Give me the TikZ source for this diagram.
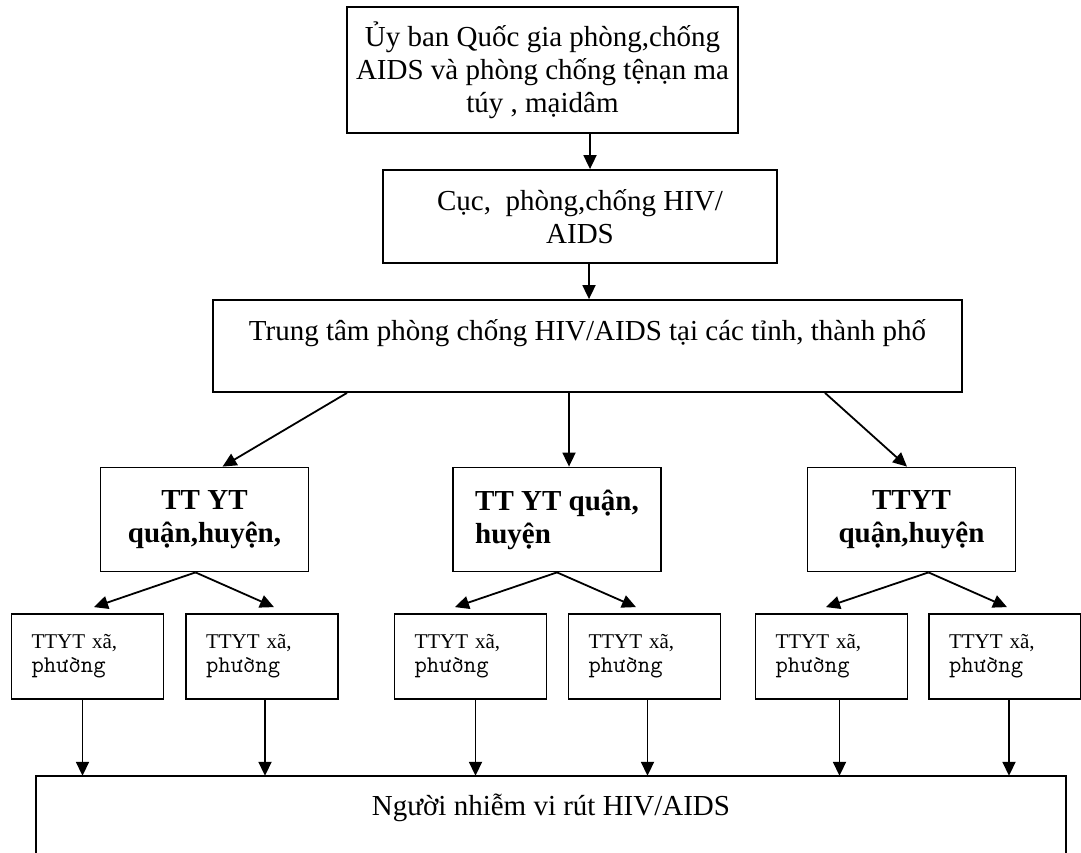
\documentclass[tikz,border=0pt]{standalone}
\usepackage{fontspec}
\setmainfont{Liberation Serif}
\usetikzlibrary{arrows.meta}

\newcommand{\phuong}{\texttt{\fontsize{24}{24}\selectfont phường}}

\begin{document}
\begin{tikzpicture}[x=1pt, y=-1pt,
	hop/.style={draw, line width=1.8pt, align=center, inner sep=0pt, font=\fontsize{29}{33}\selectfont},
	hopvua/.style={hop, minimum width=208pt, minimum height=104pt, font=\fontsize{29}{33}\selectfont\bfseries},
	hopnho/.style={draw, line width=1.8pt, align=left, inner xsep=20pt, inner ysep=0pt, text width=112pt, minimum height=85pt, font=\fontsize{21}{24}\selectfont},
	muiten/.style={line width=1.8pt, -{Triangle[length=14pt,width=13pt]}}]
	\useasboundingbox (0,0) rectangle (1081,852);
	% cap trung uong
	\node[hop, minimum width=391pt, minimum height=126pt] (uyban) at (542.5,70) {Ủy ban Quốc gia phòng,chống\\AIDS và phòng chống tệnạn ma\\túy , mạidâm};
	\node[hop, minimum width=394pt, minimum height=93pt] (cuc) at (580,216.5) {Cục,~ phòng,chống HIV/\\AIDS};
	\node[hop, minimum width=749pt, minimum height=92pt] (trungtam) at (587.5,346) {Trung tâm phòng chống HIV/AIDS tại các tỉnh, thành phố\\\mbox{}};
	% cap quan huyen
	\node[hopvua] (m1) at (204.5,519.5) {TT YT\\quận,huyện,};
	\node[hopvua, align=left] (m2) at (557,519.5) {TT YT quận,\\huyện};
	\node[hopvua] (m3) at (911.5,519.5) {TTYT\\quận,huyện};
	% cap xa phuong
	\node[hopnho] (s1) at (87.5,656.5) {TTYT xã,\\\phuong};
	\node[hopnho] (s2) at (262,656.5) {TTYT xã,\\\phuong};
	\node[hopnho] (s3) at (470.5,656.5) {TTYT xã,\\\phuong};
	\node[hopnho] (s4) at (644.5,656.5) {TTYT xã,\\\phuong};
	\node[hopnho] (s5) at (831.5,656.5) {TTYT xã,\\\phuong};
	\node[hopnho] (s6) at (1005,656.5) {TTYT xã,\\\phuong};
	% nguoi nhiem
	\node[font=\fontsize{29}{33}\selectfont, inner sep=0pt, minimum width=1030pt, minimum height=64pt] (nguoi) at (551,808) {Người nhiễm vi rút HIV/AIDS};
	\draw[line width=1.8pt] ([yshift=-30pt]nguoi.south west) |- (nguoi.north east) -- ([yshift=-30pt]nguoi.south east);
	
	\draw[muiten] ([xshift=10pt]cuc.north |- uyban.south) -- ([xshift=10pt]cuc.north);
	\draw[muiten] ([xshift=9pt]cuc.south) -- ([xshift=9pt]cuc.south |- trungtam.north);
	\draw[muiten] ([xshift=-240.5pt]trungtam.south) -- ([xshift=18pt]m1.north);
	\draw[muiten] ([xshift=-18.5pt]trungtam.south) -- ([xshift=12pt]m2.north);
	\draw[muiten] ([xshift=237.5pt]trungtam.south) -- ([xshift=-4.5pt]m3.north);
	\draw[muiten] ([xshift=-9pt]m1.south) -- ([xshift=6.5pt,yshift=6pt]s1.north);
	\draw[muiten] ([xshift=-9pt]m1.south) -- ([xshift=12pt,yshift=6pt]s2.north);
	\draw[muiten] (m2.south) -- ([xshift=-15.5pt,yshift=6pt]s3.north);
	\draw[muiten] (m2.south) -- ([xshift=-8.5pt,yshift=6pt]s4.north);
	\draw[muiten] ([xshift=17pt]m3.south) -- ([xshift=-5.5pt,yshift=6pt]s5.north);
	\draw[muiten] ([xshift=17pt]m3.south) -- ([xshift=2pt,yshift=6pt]s6.north);
	\draw[muiten] ([xshift=-5pt]s1.south) -- ([xshift=-5pt]s1.south |- nguoi.north);
	\draw[muiten] ([xshift=3pt]s2.south) -- ([xshift=3pt]s2.south |- nguoi.north);
	\draw[muiten] ([xshift=5pt]s3.south) -- ([xshift=5pt]s3.south |- nguoi.north);
	\draw[muiten] ([xshift=3pt]s4.south) -- ([xshift=3pt]s4.south |- nguoi.north);
	\draw[muiten] ([xshift=8pt]s5.south) -- ([xshift=8pt]s5.south |- nguoi.north);
	\draw[muiten] ([xshift=4pt]s6.south) -- ([xshift=4pt]s6.south |- nguoi.north);
	
\end{tikzpicture}
\end{document}
